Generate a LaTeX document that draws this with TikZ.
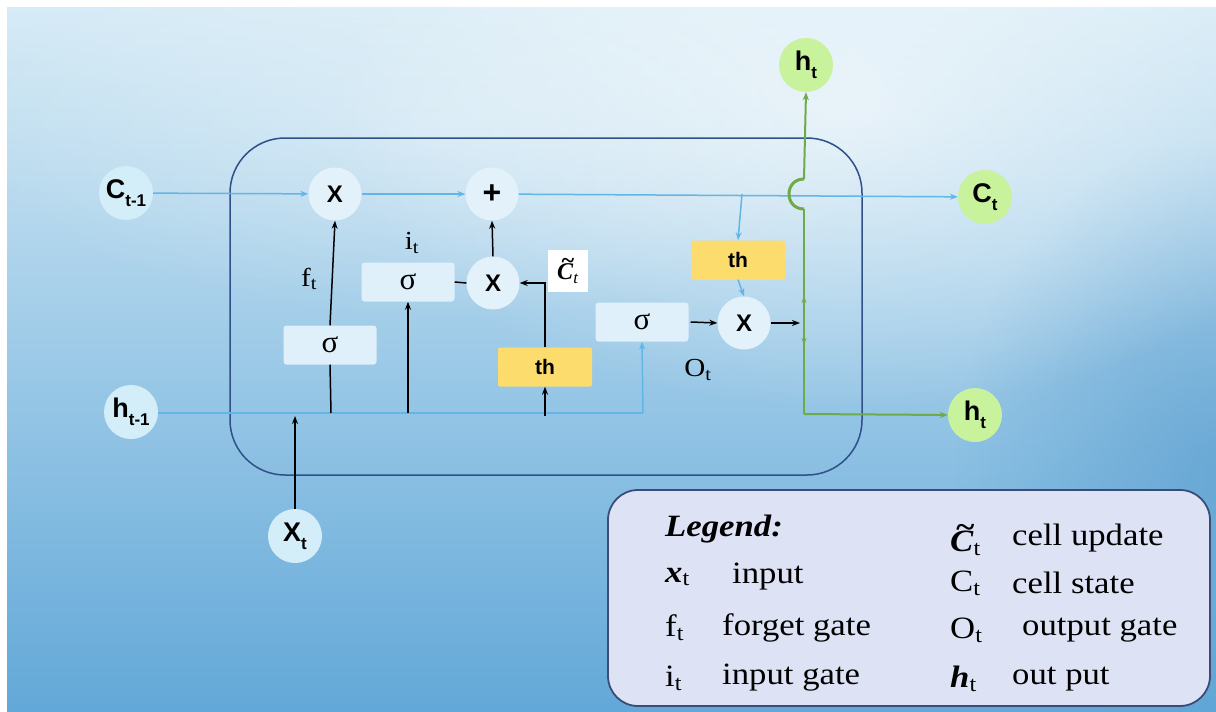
\documentclass[tikz,border=0pt]{standalone}
\usepackage{fontspec}
\setmainfont{Liberation Serif}
\setsansfont{Liberation Sans}
\newfontfamily\legfont{Liberation Serif}[FakeStretch=1.12]
\usetikzlibrary{arrows.meta,fadings}
\definecolor{bgtop}{HTML}{D6EBF6}
\definecolor{bgbot}{HTML}{62A8D8}
\definecolor{bgright}{HTML}{5C9FD0}
\definecolor{inblue}{HTML}{D3EEF8}
\definecolor{outgreen}{HTML}{C8F29C}
\definecolor{opfill}{HTML}{E3F2FA}
\definecolor{sigfill}{HTML}{DFF0FA}
\definecolor{thfill}{HTML}{FDDC6E}
\definecolor{bline}{HTML}{62B6E6}
\definecolor{gline}{HTML}{6FAA48}
\definecolor{boxline}{HTML}{30508A}
\definecolor{legfill}{HTML}{DDE3F5}
\definecolor{legline}{HTML}{3A4C78}
\tikzfading[name=myglow, inner color=transparent!0, outer color=transparent!100]
\newcommand{\sbs}[1]{\raisebox{-0.3em}{\fontsize{17}{17}\selectfont #1}}
\newcommand{\ctil}{\textbf{\textit{\makebox[0pt][l]{\hspace{0.16em}\raisebox{0.46em}{\textasciitilde}}C}}}
\begin{document}
\begin{tikzpicture}[x=1pt,y=-1pt,
  io/.style={circle, minimum size=54pt, inner sep=0pt, font=\sffamily\bfseries\fontsize{27}{27}\selectfont},
  inio/.style={io, fill=inblue},
  outio/.style={io, fill=outgreen},
  opc/.style={circle, minimum size=53pt, inner sep=0pt, fill=opfill, font=\sffamily\bfseries\fontsize{24}{24}\selectfont},
  sigbox/.style={rectangle, rounded corners=3pt, minimum width=93pt, minimum height=39pt, inner sep=0pt, fill=sigfill, font=\fontsize{31}{31}\selectfont},
  thbox/.style={rectangle, rounded corners=2pt, minimum width=94pt, minimum height=39pt, inner sep=0pt, fill=thfill, font=\sffamily\bfseries\fontsize{21}{21}\selectfont},
  lab/.style={font=\legfont\fontsize{26}{26}\selectfont, inner sep=0pt},
  leg/.style={font=\legfont\fontsize{31}{31}\selectfont, anchor=west, inner sep=0pt},
  blk/.style={draw=black, line width=1.5pt},
  blu/.style={draw=bline, line width=1.5pt},
  grn/.style={draw=gline, line width=2pt},
  tip/.style={-{Stealth[length=8pt,width=6pt]}}
]
\useasboundingbox (0,0) rectangle (1216,712);
\fill[white] (0,0) rectangle (1216,712);
\shade[top color=bgtop, bottom color=bgbot] (7,7) rectangle (1216,712);
\fill[bgright, opacity=0.7, path fading=myglow] (1216,470) ellipse [x radius=260, y radius=330];
\fill[white, opacity=0.6, path fading=myglow] (850,110) ellipse [x radius=520, y radius=300];
\fill[white, opacity=0.35, path fading=myglow] (450,120) ellipse [x radius=500, y radius=200];

% big cell box
\draw[boxline, line width=1.5pt, rounded corners=55pt] (230,138) rectangle (862,475);

% nodes
\node[inio] (cprev) at (126,193) {C\sbs{t-1}};
\node[inio] (hprev) at (131,412) {h\sbs{t-1}};
\node[inio] (xt) at (295,536) {X\sbs{t}};
\node[outio] (htop) at (806,65) {h\sbs{t}};
\node[outio] (ct) at (985,197) {C\sbs{t}};
\node[outio] (hright) at (975,415) {h\sbs{t}};

\node[opc] (mulf) at (335,194) {X};
\node[opc, font=\sffamily\bfseries\fontsize{32}{32}\selectfont] (addc) at (492,194) {+};
\node[opc] (muli) at (493,283) {X};
\node[opc] (mulo) at (744,323) {X};

\node[sigbox] (sigf) at (330,345) {σ};
\node[sigbox] (sigi) at (408,282) {σ};
\node[sigbox] (sigo) at (642,322) {σ};
\node[thbox] (thc) at (545,367) {th};
\node[thbox] (tho) at (738,260) {th};

\node[fill=white, minimum width=40pt, minimum height=42pt, inner sep=0pt, font=\fontsize{24}{24}\selectfont] (ctilbox) at (568,271) {\ctil\textsubscript{\textit{t}}};
\node[lab] (flab) at (309,279) {f\textsubscript{t}};
\node[lab] (ilab) at (412,243) {i\textsubscript{t}};
\node[lab] (olab) at (698,370) {O\textsubscript{t}};

% coordinates
\coordinate (hjoin) at (643,413);
\coordinate (hf) at (331,413);
\coordinate (hi) at (408,413);
\coordinate (hc) at (545,413);
\coordinate (hx) at (295,413);
\coordinate (cto) at (742,194);
\coordinate (thturn) at (545,283);
\coordinate (gmid) at (804,323);
\coordinate (gbot) at (804,414);
\coordinate (hop1) at (804,209);
\coordinate (hop2) at (804,179);

% blue cell-state line
\draw[blu, tip] (cprev) -- (mulf);
\draw[blu, tip] (mulf) -- (addc);
\draw[blu, tip] (addc) -- (ct);
\draw[blu, tip] (cto) -- (tho.north);
\draw[blu, tip] (tho.south) -- (mulo.north);
% blue hidden line
\draw[blu] (hprev.east |- hjoin) -- (hjoin);
\draw[blu, tip] (hjoin) -- (sigo.south);

% black connectors
\draw[blk] (hf) -- (sigf.south);
\draw[blk, tip] (sigf.north) -- (mulf.south);
\draw[blk, tip] (hi) -- (sigi.south);
\draw[blk] (sigi.east) -- (muli.west);
\draw[blk, tip] (muli.north) -- (addc.south);
\draw[blk, tip] (thc.north) -- (thturn) -- (muli.east);
\draw[blk, tip] ([yshift=-3pt]hc) -- (thc.south);
\draw[blk, tip] (xt.north) -- ([yshift=-3pt]hx);
\draw[blk, tip] ([xshift=2pt]sigo.east) -- (mulo.west);
\draw[blk, tip] (mulo.east) -- ([xshift=-4pt]gmid);

% green output line
\draw[grn, tip] (hop2) -- (htop.south);
\draw[gline, line width=3pt] (hop1) .. controls (784,209) and (784,179) .. (hop2);
\draw[grn] (hop1) -- (gbot);
\draw[grn, tip] (gbot) -- (hright.west);
\draw[grn, -{Stealth[length=7pt,width=5pt]}] (gmid) -- (804,296);
\draw[grn, -{Stealth[length=7pt,width=5pt]}] (gmid) -- (804,345);

% legend
\draw[legline, fill=legfill, line width=1.8pt, rounded corners=30pt] (608,490) rectangle (1210,706);
\node[leg, font=\legfont\fontsize{31}{31}\selectfont\bfseries\itshape] (lgt) at (665,529) {Legend:};
\node[leg] (l1s) at (665,577) {\textbf{\textit{x}}\textsubscript{t}};
\node[leg] (l1t) at (732,577) {input};
\node[leg] (l2s) at (665,628) {f\textsubscript{t}};
\node[leg] (l2t) at (722,628) {forget gate};
\node[leg] (l3s) at (665,678) {i\textsubscript{t}};
\node[leg] (l3t) at (722,678) {input gate};
\node[leg] (r1s) at (950,540) {\ctil\textsubscript{t}};
\node[leg] (r1t) at (1012,538) {cell update};
\node[leg] (r2s) at (950,583) {C\textsubscript{t}};
\node[leg] (r2t) at (1012,583) {cell state};
\node[leg] (r3s) at (950,630) {O\textsubscript{t}};
\node[leg] (r3t) at (1022,630) {output gate};
\node[leg] (r4s) at (950,679) {\textbf{\textit{h}}\textsubscript{t}};
\node[leg] (r4t) at (1012,679) {out put};
\end{tikzpicture}
\end{document}
